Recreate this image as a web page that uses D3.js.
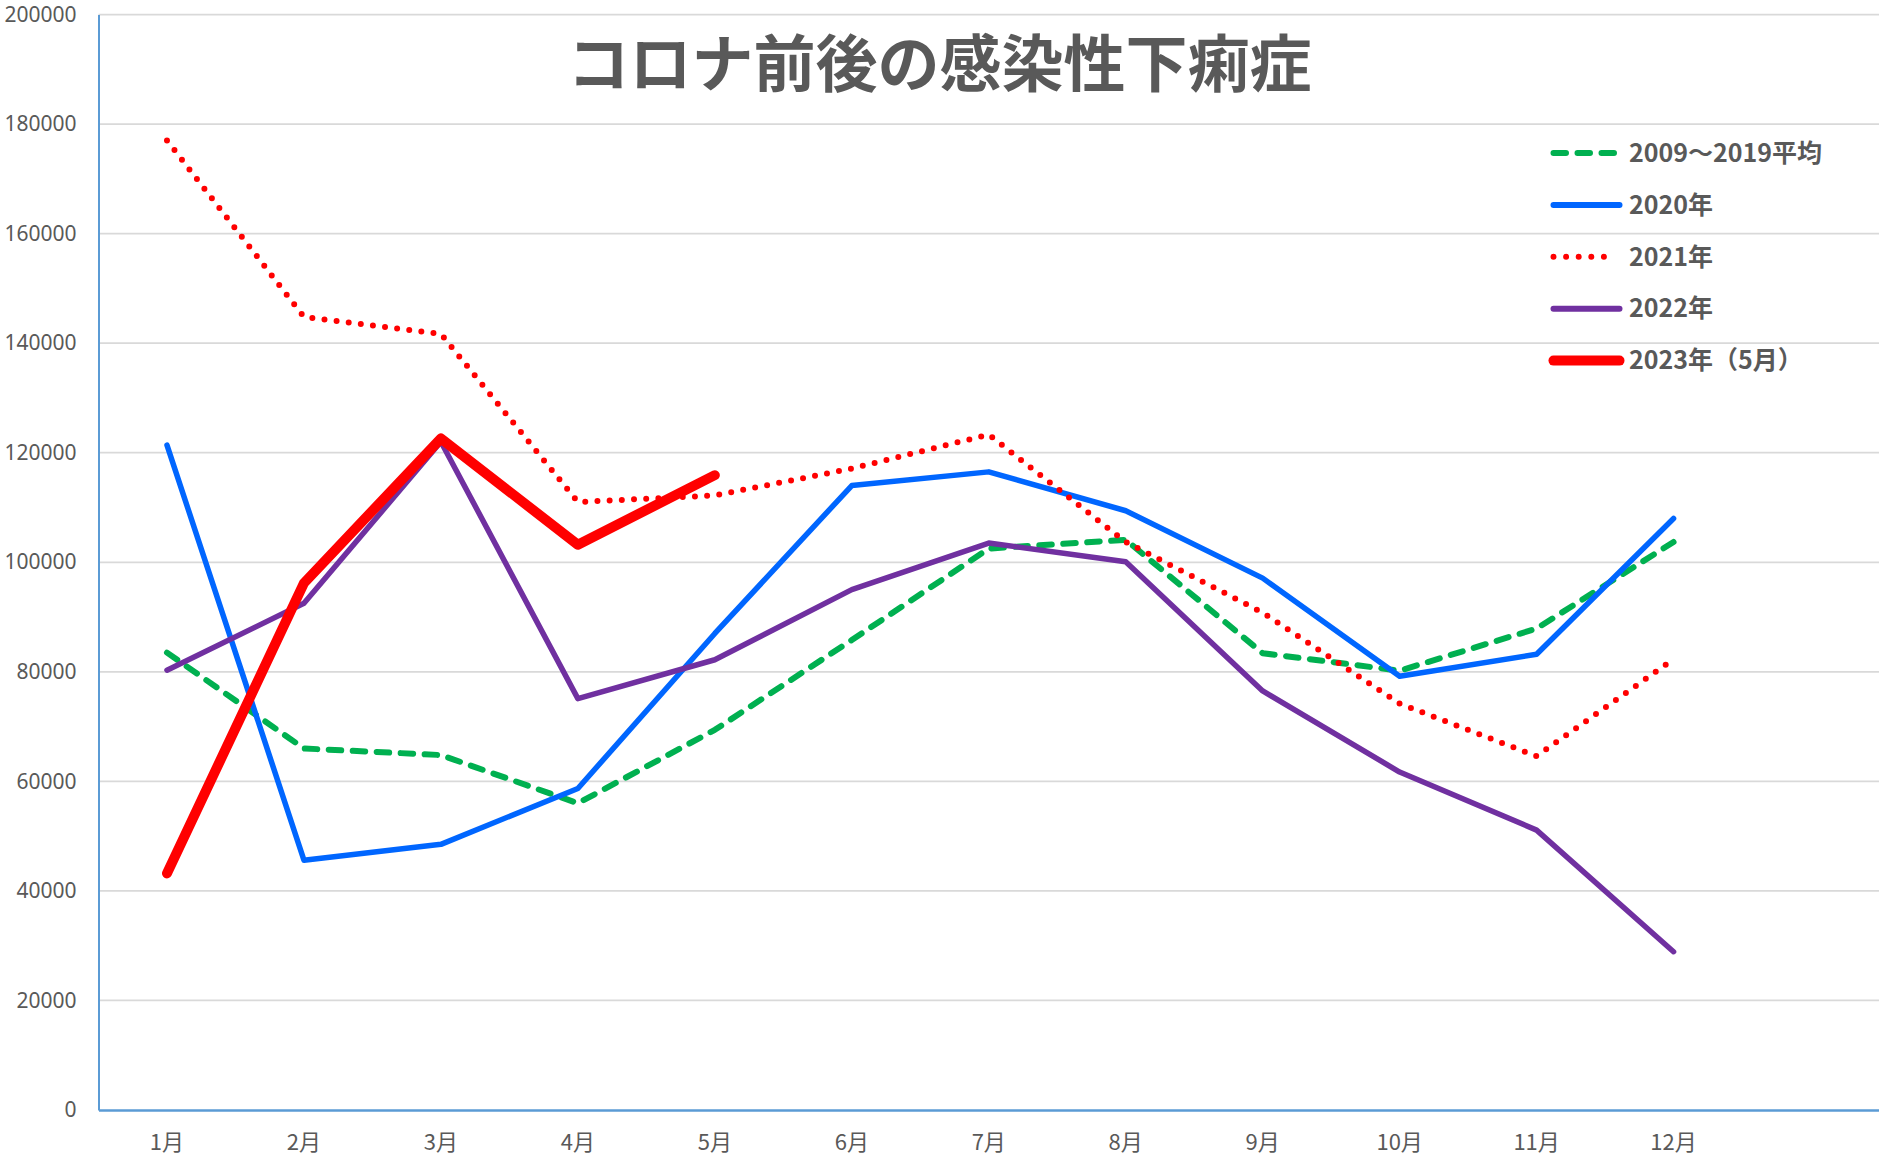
<!DOCTYPE html>
<html lang="ja">
<head>
<meta charset="utf-8">
<script src="https://cdn.jsdelivr.net/npm/d3@7"></script>
<style>
  body { margin: 0; background: #fff; }
  .axis-label text { font-family: "Noto Sans", sans-serif; font-size: 21px; fill: #595959; }
  .x-axis text { font-family: "Noto Sans CJK JP", sans-serif; font-size: 22px; fill: #595959; }
  .title { font-family: "Noto Sans CJK JP", sans-serif; font-weight: 700; font-size: 62px; fill: #595959; }
  .legend-label { font-family: "Noto Sans CJK JP", sans-serif; font-weight: 700; font-size: 25px; fill: #595959; }
</style>
</head>
<body>
<svg id="chart"></svg>
<script>
// months on the category axis (one empty slot at the end, as in the original)
const months = ["1月", "2月", "3月", "4月", "5月", "6月", "7月", "8月", "9月", "10月", "11月", "12月"];
const yTicks = [0, 20000, 40000, 60000, 80000, 100000, 120000, 140000, 160000, 180000, 200000];

// series values
const avg2009to2019 = [83500, 66000, 64800, 56000, 69400, 85800, 102500, 104100, 83400, 80200, 87900, 103700];
const y2020 = [121400, 45600, 48500, 58700, 87000, 114000, 116500, 109400, 97100, 79200, 83200, 108000];
const y2021 = [177000, 144800, 141700, 111000, 112200, 117100, 123300, 103700, 90800, 74200, 64600, 82300];
const y2022 = [80300, 92500, 122000, 75100, 82200, 95000, 103500, 100100, 76500, 61700, 51100, 28900];
const y2023 = [43200, 96200, 122600, 103200, 115900];

const seriesNames = ["2009～2019平均", "2020年", "2021年", "2022年", "2023年（5月）"];
const seriesValues = [avg2009to2019, y2020, y2021, y2022, y2023];

// line styles, in drawing order
const styles = [
  { color: "#00B050", width: 6, dash: "12.5,11.5" },
  { color: "#0066FF", width: 5.5, dash: null },
  { color: "#FF0000", width: 6, dash: "0,12.2" },
  { color: "#7030A0", width: 5.5, dash: null },
  { color: "#FF0000", width: 10, dash: null },
];

const width = 1879;
const height = 1156;
const margin = { top: 14.5, right: 0, bottom: 46, left: 98.5 };

const svg = d3.select("#chart").attr("width", width).attr("height", height);

const x = d3.scaleBand()
  .domain([...months, ""])
  .range([margin.left, width - margin.right]);

const y = d3.scaleLinear()
  .domain([0, 200000])
  .range([height - margin.bottom, margin.top]);

const xPos = (i) => x(months[i]) + x.bandwidth() / 2;

// horizontal gridlines
svg.append("g")
  .attr("class", "grid")
  .selectAll("line")
  .data(yTicks.filter((d) => d > 0))
  .join("line")
  .attr("x1", margin.left)
  .attr("x2", width)
  .attr("y1", (d) => y(d))
  .attr("y2", (d) => y(d))
  .attr("stroke", "#D9D9D9")
  .attr("stroke-width", 1.75);

// y axis
const yAxisG = svg.append("g")
  .attr("class", "axis-label")
  .attr("transform", `translate(${margin.left},0)`)
  .call(d3.axisLeft(y).tickValues(yTicks).tickSize(0).tickPadding(22).tickFormat(d3.format("d")));
yAxisG.select(".domain").attr("stroke", "#5B9BD5").attr("stroke-width", 2);

// x axis
const xAxisG = svg.append("g")
  .attr("class", "x-axis")
  .attr("transform", `translate(0,${y(0)})`)
  .call(d3.axisBottom(x).tickSize(0).tickPadding(24));
xAxisG.select(".domain").attr("stroke", "#5B9BD5").attr("stroke-width", 2.5);

// series lines
const line = d3.line()
  .x((d, i) => xPos(i))
  .y((d) => y(d));

seriesValues.forEach((values, k) => {
  const s = styles[k];
  svg.append("path")
    .datum(values)
    .attr("fill", "none")
    .attr("stroke", s.color)
    .attr("stroke-width", s.width)
    .attr("stroke-linecap", "round")
    .attr("stroke-linejoin", "round")
    .attr("stroke-dasharray", s.dash)
    .attr("d", line);
});

// title
svg.append("text")
  .attr("class", "title")
  .attr("x", width / 2)
  .attr("y", 87)
  .attr("text-anchor", "middle")
  .text("コロナ前後の感染性下痢症");

// legend
const legend = svg.append("g").attr("transform", "translate(1553.5,153)");
const rowStep = 51.9;

seriesNames.forEach((name, k) => {
  const s = styles[k];
  const row = legend.append("g").attr("transform", `translate(0,${k * rowStep})`);
  row.append("line")
    .attr("x1", 0)
    .attr("x2", s.dash ? 62 : 66)
    .attr("y1", 0)
    .attr("y2", 0)
    .attr("stroke", s.color)
    .attr("stroke-width", k === 4 ? 10 : 6)
    .attr("stroke-linecap", "round")
    .attr("stroke-dasharray", s.dash ? (k === 2 ? "0,12.6" : s.dash) : null);
  row.append("text")
    .attr("class", "legend-label")
    .attr("x", 75.5)
    .attr("y", 0)
    .attr("dy", "0.35em")
    .text(name);
});
</script>
</body>
</html>
